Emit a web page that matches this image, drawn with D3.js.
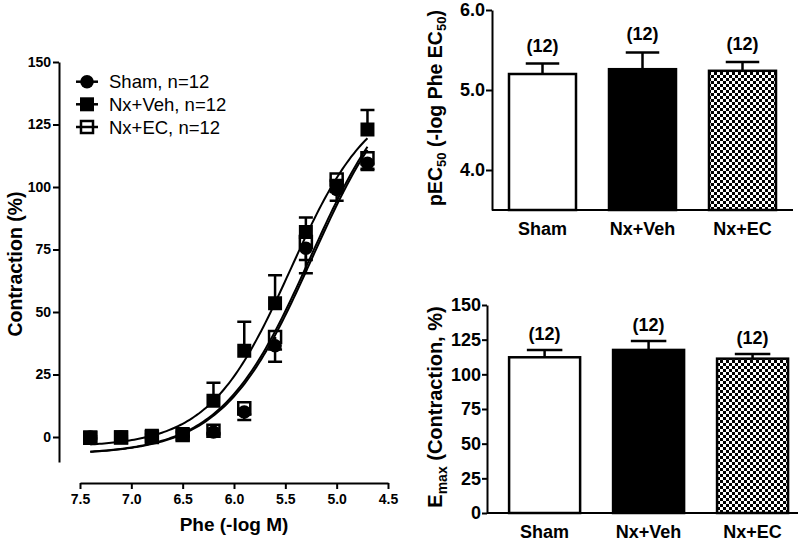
<!DOCTYPE html>
<html>
<head>
<meta charset="utf-8">
<script src="https://cdn.jsdelivr.net/npm/d3@7"></script>
<style>
  html, body { margin: 0; padding: 0; background: #fff; }
  svg { display: block; }
  text { font-family: "Liberation Sans", Arial, sans-serif; fill: #000; }
</style>
</head>
<body>
<svg id="chart" width="807" height="546"></svg>
<script>
// ---------------- Data ----------------
const doses = [7.4, 7.1, 6.8, 6.5, 6.2, 5.9, 5.6, 5.3, 5.0, 4.7];
const shamMean = [0, 0, 0.2, 0.8, 2, 10, 36.5, 75.5, 99, 109.5];
const shamSEM  = [0.5, 0.5, 0.5, 0.8, 1, 3.2, 6.4, 10, 4.5, 2.7];
const vehMean  = [-0.2, -0.1, 0.5, 1.2, 14.5, 34.5, 53.5, 82, 100.5, 123];
const vehSEM   = [0.5, 0.5, 0.6, 0.8, 7.2, 11.6, 11.2, 5.8, 2, 7.8];
const ecMean   = [-0.3, -0.2, 0, 0.8, 2.5, 11.5, 40, 78, 103, 111.5];
const ecSEM    = [0.5, 0.5, 0.5, 0.6, 1, 2.5, 5, 7.2, 5, 4.2];

const legendLabels = ["Sham, n=12", "Nx+Veh, n=12", "Nx+EC, n=12"];
// sigmoidal fit parameters per group (Sham, Nx+Veh, Nx+EC)
const fitBottom   = [-7, -4, -7];
const fitTop      = [150, 138, 150];
const fitLogEC50  = [5.24, 5.45, 5.26];
const fitHill     = [1, 1.1, 1];

const xTicks = [7.5, 7.0, 6.5, 6.0, 5.5, 5.0, 4.5];
const yTicks = [0, 25, 50, 75, 100, 125, 150];

const groups    = ["Sham", "Nx+Veh", "Nx+EC"];
const pec50Mean = [5.20, 5.26, 5.24];
const pec50SEM  = [0.13, 0.21, 0.11];
const emaxMean  = [112.3, 117.6, 111.3];
const emaxSEM   = [5.3, 6.4, 3.4];
const nLabels   = ["(12)", "(12)", "(12)"];
const pecTicks  = [4.0, 5.0, 6.0];
const emaxTicks = [0, 25, 50, 75, 100, 125, 150];

// ---------------- Setup ----------------
const svg = d3.select("#chart");
const FONT = '"Liberation Sans", Arial, sans-serif';

const defs = svg.append("defs");
const pat = defs.append("pattern").attr("id", "checker")
  .attr("patternUnits", "userSpaceOnUse").attr("width", 6).attr("height", 6);
pat.append("rect").attr("width", 6).attr("height", 6).attr("fill", "#fff");
pat.append("rect").attr("x", 0).attr("y", 0).attr("width", 3).attr("height", 3).attr("fill", "#000");
pat.append("rect").attr("x", 3).attr("y", 3).attr("width", 3).attr("height", 3).attr("fill", "#000");

function styleAxis(g, size, weight) {
  g.selectAll("path.domain").attr("stroke", "#000").attr("stroke-width", 2);
  g.selectAll(".tick line").attr("stroke", "#000").attr("stroke-width", 2);
  g.selectAll("text").attr("font-family", FONT).attr("font-size", size)
    .attr("font-weight", weight).attr("fill", "#000");
}

// ---------------- Left chart: concentration-response ----------------
const x = d3.scaleLinear().domain([7.5, 4.5]).range([80, 388]);
const y = d3.scaleLinear().domain([-10, 150]).range([462, 62]);

const gx = svg.append("g").attr("transform", "translate(0,483)")
  .call(d3.axisBottom(x).tickValues(xTicks).tickFormat(d3.format(".1f"))
    .tickSize(6).tickSizeOuter(0).tickPadding(5));
styleAxis(gx, 14, "bold");

const gy = svg.append("g").attr("transform", "translate(59,0)")
  .call(d3.axisLeft(y).tickValues(yTicks).tickSize(6).tickSizeOuter(0).tickPadding(2));
styleAxis(gy, 14, "bold");

svg.append("text").attr("x", x(6.0)).attr("y", 531)
  .attr("text-anchor", "middle").attr("font-size", 19).attr("font-weight", "bold")
  .text("Phe (-log M)");
svg.append("text").attr("transform", "translate(22,264) rotate(-90)")
  .attr("text-anchor", "middle").attr("font-size", 19.5).attr("font-weight", "bold")
  .text("Contraction (%)");

// fitted curves
const series = [
  { mean: shamMean, sem: shamSEM, dir: -1, marker: "circle" },
  { mean: vehMean,  sem: vehSEM,  dir: 1,  marker: "filled" },
  { mean: ecMean,   sem: ecSEM,   dir: -1, marker: "open" }
];
const line = d3.line().x(d => x(d[0])).y(d => y(d[1]));
const xStart = d3.max(doses), xEnd = d3.min(doses);
series.forEach((s, i) => {
  const pts = d3.range(0, 121).map(k => {
    const xv = xStart + (xEnd - xStart) * k / 120;
    const yv = fitBottom[i] + (fitTop[i] - fitBottom[i]) /
      (1 + Math.pow(10, fitHill[i] * (xv - fitLogEC50[i])));
    return [xv, yv];
  });
  svg.append("path").attr("d", line(pts)).attr("fill", "none")
    .attr("stroke", "#000").attr("stroke-width", 2);
});

function drawMarker(g, type, cx, cy) {
  if (type === "circle") {
    g.append("circle").attr("cx", cx).attr("cy", cy).attr("r", 6.8).attr("fill", "#000");
  } else if (type === "filled") {
    g.append("rect").attr("x", cx - 7).attr("y", cy - 7).attr("width", 14).attr("height", 14).attr("fill", "#000");
  } else {
    g.append("rect").attr("x", cx - 6).attr("y", cy - 6).attr("width", 12).attr("height", 12)
      .attr("fill", "none").attr("stroke", "#000").attr("stroke-width", 2.5);
  }
}

// error bars and markers
series.forEach(s => {
  const g = svg.append("g");
  doses.forEach((d, j) => {
    const cx = x(d), cy = y(s.mean[j]);
    const ey = y(s.mean[j] + s.dir * s.sem[j]);
    g.append("line").attr("x1", cx).attr("x2", cx).attr("y1", cy).attr("y2", ey)
      .attr("stroke", "#000").attr("stroke-width", 2.5);
    g.append("line").attr("x1", cx - 7).attr("x2", cx + 7).attr("y1", ey).attr("y2", ey)
      .attr("stroke", "#000").attr("stroke-width", 2.5);
  });
});
series.forEach(s => {
  const g = svg.append("g");
  doses.forEach((d, j) => drawMarker(g, s.marker, x(d), y(s.mean[j])));
});

// legend
const legendY = [81.7, 104.3, 127];
series.forEach((s, i) => {
  const g = svg.append("g");
  g.append("line").attr("x1", 76).attr("x2", 98).attr("y1", legendY[i]).attr("y2", legendY[i])
    .attr("stroke", "#000").attr("stroke-width", 2.5);
  drawMarker(g, s.marker, 87, legendY[i]);
  g.append("text").attr("x", 109).attr("y", legendY[i] + 6.5)
    .attr("font-size", 18.5).text(legendLabels[i]);
});

// ---------------- Bar chart helper ----------------
function barChart(opts) {
  const xb = d3.scaleBand().domain(groups).range(opts.xRange)
    .paddingInner(opts.pIn).paddingOuter(opts.pOut).align(opts.align);
  const yb = d3.scaleLinear().domain(opts.yDomain).range(opts.yRange);
  const fills = ["#fff", "#000", "url(#checker)"];
  const g = svg.append("g");

  groups.forEach((grp, i) => {
    const bx = xb(grp), bw = xb.bandwidth();
    const top = yb(opts.mean[i]);
    const etop = yb(opts.mean[i] + opts.sem[i]);
    const cx = bx + bw / 2;
    g.append("line").attr("x1", cx).attr("x2", cx).attr("y1", top).attr("y2", etop)
      .attr("stroke", "#000").attr("stroke-width", 2.5);
    g.append("line").attr("x1", cx - bw * 0.25).attr("x2", cx + bw * 0.25)
      .attr("y1", etop).attr("y2", etop).attr("stroke", "#000").attr("stroke-width", 2.5);
    g.append("rect").attr("x", bx).attr("y", top).attr("width", bw)
      .attr("height", yb.range()[0] - top).attr("fill", fills[i])
      .attr("stroke", "#000").attr("stroke-width", 2.5);
    g.append("text").attr("x", cx).attr("y", etop - opts.labelGap)
      .attr("text-anchor", "middle").attr("font-size", 18).attr("font-weight", "bold")
      .text(nLabels[i]);
  });

  const ga = svg.append("g").attr("transform", `translate(${opts.axisX},0)`)
    .call(d3.axisLeft(yb).tickValues(opts.ticks).tickFormat(opts.fmt)
      .tickSize(opts.tickLen).tickSizeOuter(0).tickPadding(1));
  styleAxis(ga, 18, "bold");

  const baseY = yb.range()[0];
  svg.append("line").attr("x1", opts.axisX).attr("x2", opts.xRange[1])
    .attr("y1", baseY).attr("y2", baseY).attr("stroke", "#000").attr("stroke-width", 2);
  const gc = svg.append("g").attr("transform", `translate(0,${baseY})`)
    .call(d3.axisBottom(xb).tickSize(0).tickPadding(12));
  gc.select("path.domain").remove();
  styleAxis(gc, 18, "bold");
  return { xb, yb };
}

barChart({
  xRange: [492, 793], pIn: 0.33, pOut: 0.17, align: 0.5,
  yDomain: [3.5, 6.0], yRange: [210, 10], axisX: 492,
  mean: pec50Mean, sem: pec50SEM, ticks: pecTicks, fmt: d3.format(".1f"),
  tickLen: 6, labelGap: 12
});

barChart({
  xRange: [487, 798], pIn: 0.317, pOut: 0.154, align: 0.69,
  yDomain: [0, 150], yRange: [513, 305], axisX: 487,
  mean: emaxMean, sem: emaxSEM, ticks: emaxTicks, fmt: d3.format("d"),
  tickLen: 5, labelGap: 10
});

// y-axis titles with subscripts
const t1 = svg.append("text").attr("transform", "translate(442,108) rotate(-90)")
  .attr("text-anchor", "middle").attr("font-size", 19.5).attr("font-weight", "bold");
t1.append("tspan").text("pEC");
t1.append("tspan").attr("font-size", 13).attr("dy", 4).text("50");
t1.append("tspan").attr("dy", -4).text(" (-log Phe EC");
t1.append("tspan").attr("font-size", 13).attr("dy", 4).text("50");
t1.append("tspan").attr("dy", -4).text(")");

const t2 = svg.append("text").attr("transform", "translate(442,407) rotate(-90)")
  .attr("text-anchor", "middle").attr("font-size", 20).attr("font-weight", "bold");
t2.append("tspan").text("E");
t2.append("tspan").attr("font-size", 14).attr("dy", 5).text("max");
t2.append("tspan").attr("dy", -5).text(" (Contraction, %)");
</script>
</body>
</html>
